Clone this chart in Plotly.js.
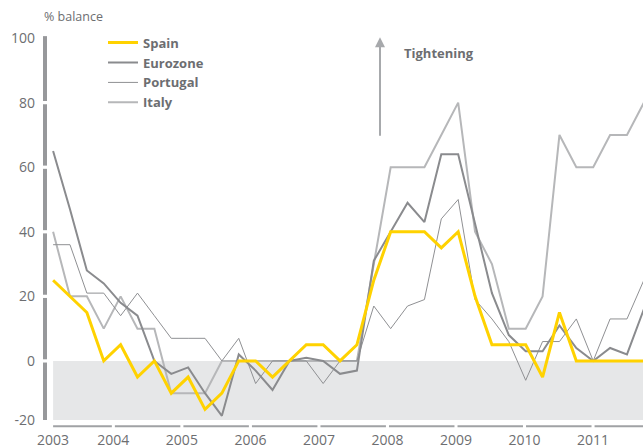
<!DOCTYPE html>
<html>
<head>
<meta charset="utf-8">
<script src="https://cdn.plot.ly/plotly-3.0.1.min.js"></script>
<style>html,body{margin:0;padding:0;background:#fff}#chart{width:643px;height:448px}</style>
</head>
<body>
<div id="chart"></div>
<script>
// Quarterly data, 2003 Q1 - 2011 Q4 (% balance, credit standards)
const quarters = [
  '2003 Q1','2003 Q2','2003 Q3','2003 Q4','2004 Q1','2004 Q2','2004 Q3','2004 Q4',
  '2005 Q1','2005 Q2','2005 Q3','2005 Q4','2006 Q1','2006 Q2','2006 Q3','2006 Q4',
  '2007 Q1','2007 Q2','2007 Q3','2007 Q4','2008 Q1','2008 Q2','2008 Q3','2008 Q4',
  '2009 Q1','2009 Q2','2009 Q3','2009 Q4','2010 Q1','2010 Q2','2010 Q3','2010 Q4',
  '2011 Q1','2011 Q2','2011 Q3','2011 Q4'
];
const spain    = [25,20,15,0,5,-5,0,-10,-5,-15,-10,0,0,-5,0,5,5,0,5,25,40,40,40,35,40,20,5,5,5,-5,15,0,0,0,0,0];
const eurozone = [65,47,28,24,18,14,0,-4,-2,-10,-17,2,-3,-9,0,1,0,-4,-3,31,40,49,43,64,64,42,21,8,3,3,11,4,0,4,2,16];
const portugal = [36,36,21,21,14,21,14,7,7,7,0,7,-7,0,0,0,-7,0,0,17,10,17,19,44,50,19,13,6,-6,6,6,13,0,13,13,25];
const italy    = [40,20,20,10,20,10,10,-10,-10,-10,0,0,0,0,0,0,0,0,0,30,60,60,60,70,80,40,30,10,10,20,70,60,60,70,70,80];
const years = ['2003','2004','2005','2006','2007','2008','2009','2010','2011'];
const yTicks = [100,80,60,40,20,0,-20];

// ---- layout constants ----
const xIdx = quarters.map((q, i) => i);
const X_MIN = -0.48, X_MAX = 34.95;
const Y_MIN = -18.3, Y_MAX = 102.5;
const yearPos = years.map((y, k) => k === 0 ? 0 : 3.57 + 4.06 * (k - 1));
const textGray = '#6d6e71';
const axisGray = '#a0a2a5';
const FONT = 'Open Sans, Lato, sans-serif';

const traces = [
  {name: 'Italy', y: italy, color: '#b6b7b9', width: 2},
  {name: 'Portugal', y: portugal, color: '#8f9093', width: 1},
  {name: 'Eurozone', y: eurozone, color: '#8a8b8e', width: 2},
  {name: 'Spain', y: spain, color: '#ffd200', width: 3}
].map(s => ({
  type: 'scatter', mode: 'lines', name: s.name,
  x: xIdx, y: s.y, text: quarters,
  hovertemplate: '%{text}: %{y}<extra>' + s.name + '</extra>',
  line: {color: s.color, width: s.width}
}));

const shapes = [];
// grey band below zero
shapes.push({type: 'rect', xref: 'x', yref: 'y', x0: 0, x1: 40, y0: Y_MIN, y1: 0,
  fillcolor: '#e6e7e8', line: {width: 0}, layer: 'below'});
// segmented x axis line
const gx = 0.09;
const xb = [0].concat(yearPos.slice(1)).concat([40]);
for (let k = 0; k < xb.length - 1; k++) {
  shapes.push({type: 'line', xref: 'x', yref: 'paper',
    x0: xb[k] + (k === 0 ? 0 : gx), x1: xb[k + 1] - gx, y0: -0.016, y1: -0.016,
    line: {color: axisGray, width: 2}});
}
// segmented y axis line
const gy = 0.5;
const yb = [Y_MIN, 0, 20, 40, 60, 80, 100.6];
for (let k = 0; k < yb.length - 1; k++) {
  shapes.push({type: 'line', xref: 'paper', yref: 'y', x0: 0, x1: 0,
    y0: yb[k] + (k === 0 ? 0 : gy), y1: yb[k + 1] - (k === yb.length - 2 ? 0 : gy),
    line: {color: '#97989b', width: 4}});
}

const layout = {
  width: 643, height: 448,
  margin: {l: 45, r: 0, t: 30, b: 28},
  paper_bgcolor: '#ffffff', plot_bgcolor: 'rgba(0,0,0,0)',
  font: {family: FONT, color: textGray, size: 14},
  showlegend: true,
  legend: {x: 0.097, y: 1.006, xanchor: 'left', yanchor: 'top', traceorder: 'reversed',
    font: {family: FONT, size: 13, color: textGray, weight: 'bold'},
    bgcolor: 'rgba(0,0,0,0)', itemwidth: 30, tracegroupgap: 0},
  xaxis: {range: [X_MIN, X_MAX], tickvals: yearPos, ticktext: years,
    showgrid: false, zeroline: false, showline: false, ticks: '',
    ticklabelstandoff: 10, tickfont: {size: 14, color: textGray}, fixedrange: true},
  yaxis: {range: [Y_MIN, Y_MAX],
    tickvals: yTicks.map(v => Math.max(v, Y_MIN + 0.01)), ticktext: yTicks.map(String),
    showgrid: false, zeroline: false, showline: false, ticks: '',
    ticklabelstandoff: 9, tickfont: {size: 14, color: textGray}, fixedrange: true},
  shapes: shapes,
  annotations: [
    {text: '% balance', xref: 'paper', yref: 'paper', x: -0.005, y: 1.0, yshift: 14,
     xanchor: 'left', yanchor: 'middle', showarrow: false,
     font: {family: FONT, size: 12.5, color: textGray}},
    {text: 'Tightening', xref: 'paper', yref: 'paper', x: (402 - 45) / 598, y: (419.8 - 53) / 390,
     xanchor: 'left', yanchor: 'middle', showarrow: false,
     font: {family: FONT, size: 13, color: textGray, weight: 'bold'}},
    {text: '', xref: 'paper', yref: 'paper', x: (380 - 45) / 598, y: (419.8 - 37) / 390,
     showarrow: true, ax: 0, ay: 100, arrowhead: 2, arrowsize: 1, arrowwidth: 2,
     arrowcolor: '#a7a9ac'}
  ]
};

Plotly.newPlot('chart', traces, layout, {displayModeBar: false, responsive: false});
</script>
</body>
</html>
